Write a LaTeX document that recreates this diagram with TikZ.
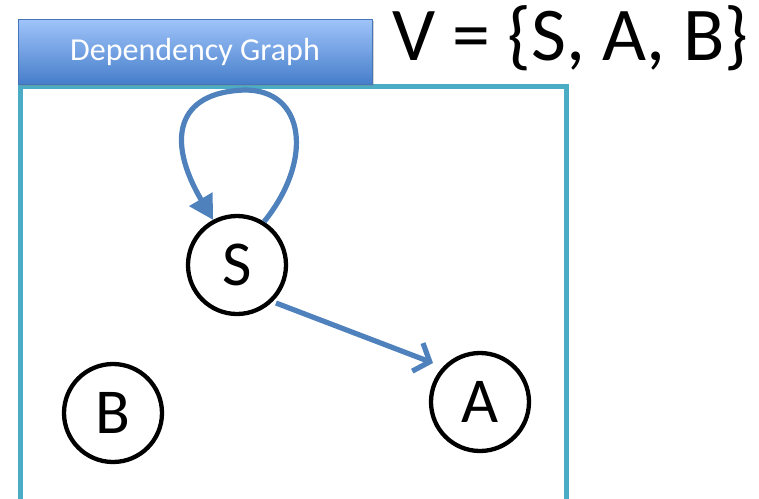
\documentclass[tikz,border=0pt]{standalone}
\usepackage{fontspec}
\setmainfont{Carlito}
\usetikzlibrary{arrows.meta,shadows}
\definecolor{framecol}{RGB}{75,172,198}
\definecolor{edgecol}{RGB}{79,129,189}
\definecolor{headtop}{RGB}{160,196,250}
\definecolor{headbot}{RGB}{70,126,202}
\definecolor{headline}{RGB}{70,118,185}
\tikzset{
  vertex/.style={circle, draw=black, line width=4.3pt, minimum size=98pt, inner sep=0pt, font=\fontsize{64}{66}\selectfont},
  edge/.style={draw=edgecol, line width=5.2pt},
  header/.style={draw=headline, line width=0.8pt, top color=headtop, bottom color=headbot,
    text=white, font=\fontsize{32}{34}\selectfont, drop shadow={opacity=0.35, shadow xshift=1.5pt, shadow yshift=-2pt}}
}
\begin{document}
\begin{tikzpicture}[x=1pt,y=-1pt]
  \useasboundingbox (0,0) rectangle (759,498);
  \clip (0,0) rectangle (759,498);
  % outer frame of the graph panel
  \draw[framecol, line width=5pt] (20,520) -- (20,86) -- (566,86) -- (566,520);
  % title tab
  \node[header, minimum width=354pt, minimum height=65pt, inner sep=0pt] (title) at (195,51.5) {Dependency Graph};
  % vertex set
  \node[anchor=west, font=\fontsize{76}{80}\selectfont, inner sep=0pt] (vset) at (392,38) {V = \{S, A, B\}};
  % vertices
  \node[vertex] (S) at (237,265) {S};
  \node[vertex] (A) at (480,402) {A};
  \node[vertex] (B) at (113,413) {B};
  % end points of the S -> A edge
  \coordinate (sa1) at (276,303);
  \coordinate (sa2) at (433,363);
  % edges
  \draw[edge, -{Triangle[length=24pt,width=26pt]}]
    (S.58) .. controls (314,160) and (305,90) .. (245,90)
           .. controls (176,92) and (166,140) .. (S.118);
  \draw[edge, -{Straight Barb[length=13pt,width=30pt,line width=5.2pt]}] (sa1) -- (sa2);
\end{tikzpicture}
\end{document}
